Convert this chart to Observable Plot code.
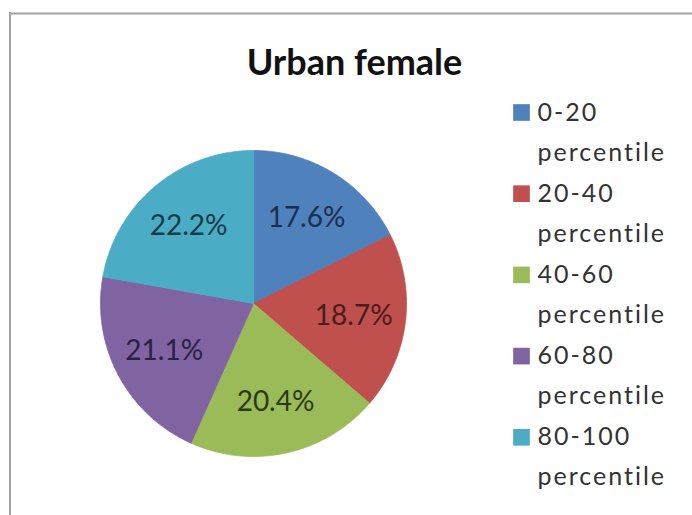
<!DOCTYPE html>
<html>
<head>
<meta charset="utf-8">
<script src="https://cdn.jsdelivr.net/npm/d3@7"></script>
<script src="https://cdn.jsdelivr.net/npm/@observablehq/plot@0.6"></script>
<style>
  html, body { margin: 0; padding: 0; background: #ffffff; }
</style>
</head>
<body>
<div id="chart"></div>
<script>
// ---- data ----
const title = "Urban female";
const categories = ["0-20", "20-40", "40-60", "60-80", "80-100"];
const legendSuffix = "percentile";
const values = [17.6, 18.7, 20.4, 21.1, 22.2];
const colors = ["#4F81BD", "#C0504D", "#9BBB59", "#8064A2", "#4BACC6"];
const labelColors = ["#1c2f52", "#4a1c1a", "#2b3a12", "#2c2045", "#163a46"];

// ---- layout (pixels) ----
const W = 692, H = 515;
const cx = 253, cy = 303, R = 153;
const px2x = px => (px - cx) / R;
const px2y = py => (cy - py) / R;

// ---- pie geometry via d3.pie (angles clockwise from 12 o'clock) ----
const arcs = d3.pie().sort(null).value(d => d)(values);
const slicePoints = [];
arcs.forEach((a, i) => {
  const key = categories[i];
  slicePoints.push({k: key, color: colors[i], x: 0, y: 0});
  const n = Math.max(2, Math.ceil((a.endAngle - a.startAngle) / (Math.PI / 360)));
  for (let j = 0; j <= n; j++) {
    const t = a.startAngle + (a.endAngle - a.startAngle) * j / n;
    slicePoints.push({k: key, color: colors[i], x: Math.sin(t), y: Math.cos(t)});
  }
  slicePoints.push({k: key, color: colors[i], x: 0, y: 0});
});
const labelR = 0.66;
const sliceLabels = arcs.map((a, i) => {
  const m = (a.startAngle + a.endAngle) / 2;
  return {text: values[i].toFixed(1) + "%", color: labelColors[i], x: labelR * Math.sin(m), y: labelR * Math.cos(m)};
});

// ---- legend layout ----
const legX = 521, legTextX = 537, legTop = 112, legStep = 81.2, legLine = 40;
const legendRows = categories.map((c, i) => ({c, color: colors[i], y: px2y(legTop + i * legStep)}));
const legendLines = [];
categories.forEach((c, i) => {
  legendLines.push({t: c, y: px2y(legTop + i * legStep)});
  legendLines.push({t: legendSuffix, y: px2y(legTop + i * legStep + legLine)});
});

const chart = Plot.plot({
  width: W,
  height: H,
  margin: 0,
  style: {fontFamily: "Lato", background: "#ffffff", overflow: "visible"},
  x: {domain: [-1, 1], range: [cx - R, cx + R], axis: null},
  y: {domain: [-1, 1], range: [cy + R, cy - R], axis: null},
  marks: [
    // chart area border (left and top edges)
    Plot.ruleX([px2x(9.5)], {y1: px2y(12), y2: px2y(H), stroke: "#a3a3a3", strokeWidth: 2}),
    Plot.ruleY([px2y(13)], {x1: px2x(9), x2: px2x(W), stroke: "#a3a3a3", strokeWidth: 2}),
    // slices
    Plot.line(slicePoints, {x: "x", y: "y", z: "k", fill: "color", stroke: "color", strokeWidth: 0.8, curve: "linear"}),
    // slice labels
    Plot.text(sliceLabels, {x: "x", y: "y", text: "text", fill: "color", fontSize: 28, fontFamily: "Lato"}),
    // title
    Plot.text([title], {x: px2x(354), y: px2y(63), text: d => d, fontSize: 36, fontWeight: "bold", fill: "#111111", fontFamily: "Lato"}),
    // legend swatches
    Plot.dot(legendRows, {x: px2x(legX), y: "y", symbol: "square", r: 9.4, fill: "color", stroke: null}),
    // legend text
    Plot.text(legendLines, {x: px2x(legTextX), y: "y", text: "t", textAnchor: "start", fontSize: 25, fill: "#333333", fontFamily: "Lato"})
  ]
});
// widen legend lettering to match the reference's proportions
const legendStrings = new Set([...categories, legendSuffix]);
d3.select(chart).selectAll("text").filter(function () {
  return legendStrings.has(this.textContent);
}).attr("letter-spacing", "2px");
document.getElementById("chart").appendChild(chart);
</script>
</body>
</html>
